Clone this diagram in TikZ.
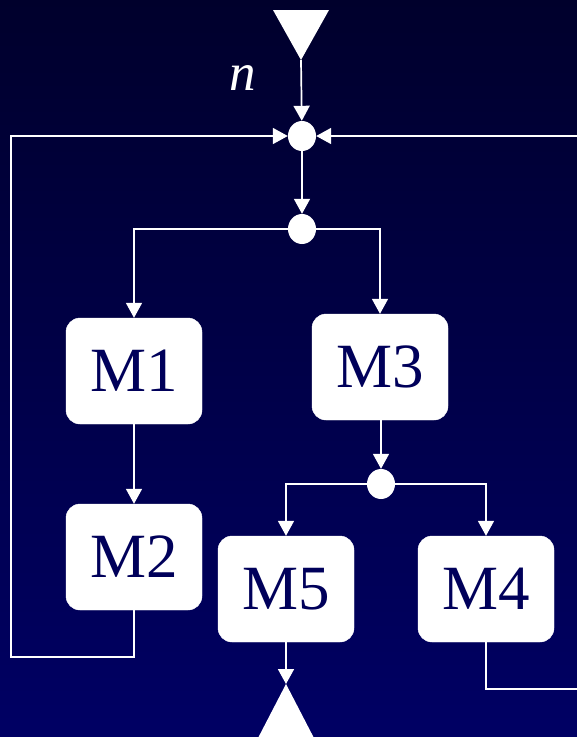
\documentclass[tikz,border=0pt]{standalone}
\usepackage{fontspec}
\setmainfont{Liberation Serif}
\usetikzlibrary{arrows.meta,shapes.geometric}
\definecolor{bgtop}{RGB}{0,0,44}
\definecolor{bgbot}{RGB}{0,0,100}
\definecolor{ink}{RGB}{0,0,90}
\begin{document}
\begin{tikzpicture}[x=1pt,y=-1pt,
  module/.style={draw=white, fill=white, rounded corners=14pt,
    minimum width=136pt, minimum height=106pt, inner sep=0pt,
    text=ink, font=\fontsize{63}{63}\selectfont},
  junction/.style={ellipse, fill=white, minimum width=28pt,
    minimum height=30pt, inner sep=0pt},
  flow/.style={draw=white, line width=1.7pt,
    -{Triangle[width=16pt,length=15pt]}},
  terminal/.style={fill=white},
]
% background and frame
\shade[top color=bgtop, bottom color=bgbot] (0,0) rectangle (577,737);
\useasboundingbox (0,0) rectangle (577,737);
\clip (0,0) rectangle (577,737);

% modules
\node[module] (m1) at (134,371) {M1};
\node[module] (m3) at (380,367) {M3};
\node[module] (m2) at (134,557) {M2};
\node[module] (m5) at (286,589) {M5};
\node[module] (m4) at (486,589) {M4};

% junction points
\node[junction] (j1) at (302,136) {};
\node[junction] (j2) at (302,229) {};
\node[junction] (j3) at (381,484) {};

% source and sink triangles
\coordinate (src) at (301,60);
\fill[terminal] (273,10) -- (329,10) -- (src) -- cycle;
\coordinate (snk) at (286,684);
\fill[terminal] (snk) -- (315,740) -- (257,740) -- cycle;
\node[font=\itshape\fontsize{53}{53}\selectfont, text=white] (nlab) at (243,78) {n};

% loop corners
\coordinate (lb) at (11,657);
\coordinate (lt) at (11,136);
\coordinate (rb) at (595,689);
\coordinate (rt) at (595,136);

% connectors
\draw[flow] (src) -- (j1);
\draw[flow] (j1) -- (j2);
\draw[flow] (j2) -| (m1);
\draw[flow] (j2) -| (m3);
\draw[flow] (m1) -- (m2);
\draw[flow] (m3.south -| j3) -- (j3);
\draw[flow] (j3) -| (m5);
\draw[flow] (j3) -| (m4);
\draw[flow] (m5) -- (snk);
\draw[flow] (m2.south) |- (lb) -- (lt) -- (j1);
\draw[flow] (m4.south) |- (rb) -- (rt) -- (j1);
\end{tikzpicture}
\end{document}
